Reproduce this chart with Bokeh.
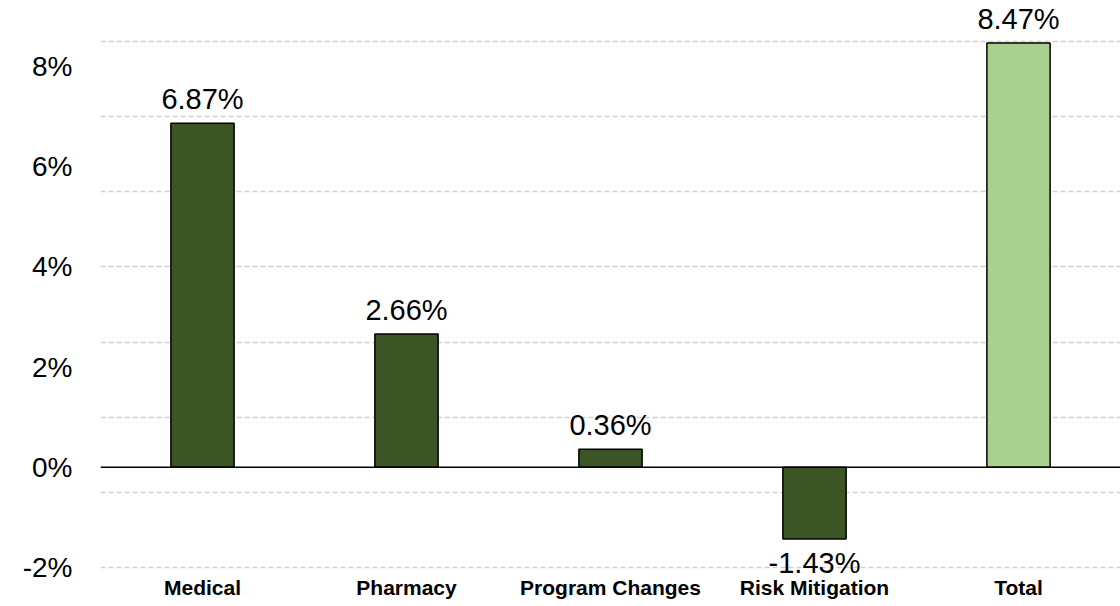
import numpy as np
from bokeh.plotting import figure
from bokeh.models import ColumnDataSource, FactorRange, Range1d, FixedTicker, PrintfTickFormatter, Span, LabelSet
from bokeh.core.properties import value
from bokeh.embed import file_html
from bokeh.resources import INLINE

categories = ["Medical", "Pharmacy", "Program Changes", "Risk Mitigation", "Total"]
values = [6.87, 2.66, 0.36, -1.43, 8.47]
colors = ["#3B5525", "#3B5525", "#3B5525", "#3B5525", "#A9D18E"]
y_ticks = [-2, 0, 2, 4, 6, 8]

FONT = "Liberation Sans"

labels = [f"{v:.2f}%" for v in values]
pos = [v >= 0 for v in values]
src_pos = ColumnDataSource(dict(x=[c for c, p in zip(categories, pos) if p],
                                y=[v for v, p in zip(values, pos) if p],
                                t=[l for l, p in zip(labels, pos) if p]))
src_neg = ColumnDataSource(dict(x=[c for c, p in zip(categories, pos) if not p],
                                y=[v for v, p in zip(values, pos) if not p],
                                t=[l for l, p in zip(labels, pos) if not p]))
src = ColumnDataSource(dict(x=categories, top=values, color=colors))

p = figure(x_range=FactorRange(*categories, range_padding=0), y_range=Range1d(-2.2, 9.32),
           width=1120, height=606, output_backend="svg", toolbar_location=None,
           min_border_left=100, min_border_right=0, min_border_top=0, min_border_bottom=29)
p.outline_line_color = None

p.vbar(x="x", top="top", bottom=0, width=0.31, source=src, fill_color="color",
       line_color="black", line_width=1.5)

p.add_layout(Span(location=0, dimension="width", line_color="black", line_width=1.5))

p.add_layout(LabelSet(x="x", y="y", text="t", source=src_pos, text_align="center",
                      text_baseline="bottom", y_offset=8, text_font=value(FONT),
                      text_font_size="29px", text_color="black"))
p.add_layout(LabelSet(x="x", y="y", text="t", source=src_neg, text_align="center",
                      text_baseline="top", y_offset=-8, text_font=value(FONT),
                      text_font_size="29px", text_color="black"))

p.xgrid.grid_line_color = None
p.ygrid.ticker = FixedTicker(ticks=list(np.arange(-2, 9, 1.5)))
p.ygrid.grid_line_color = "#cfcfcf"
p.ygrid.grid_line_dash = "5 3"
p.ygrid.grid_line_width = 1.3

p.yaxis.ticker = FixedTicker(ticks=y_ticks)
p.yaxis.formatter = PrintfTickFormatter(format="%d%%")
p.yaxis.axis_line_color = None
p.yaxis.major_tick_line_color = None
p.yaxis.minor_tick_line_color = None
p.yaxis.major_label_text_font = FONT
p.yaxis.major_label_text_font_size = "28px"
p.yaxis.major_label_text_color = "black"
p.yaxis.major_label_standoff = 22

p.xaxis.axis_line_color = None
p.xaxis.major_tick_line_color = None
p.xaxis.major_label_text_font = FONT
p.xaxis.major_label_text_font_size = "21px"
p.xaxis.major_label_text_font_style = "bold"
p.xaxis.major_label_text_color = "black"
p.xaxis.major_label_standoff = -8

open("out.html", "w").write(file_html(p, INLINE))
